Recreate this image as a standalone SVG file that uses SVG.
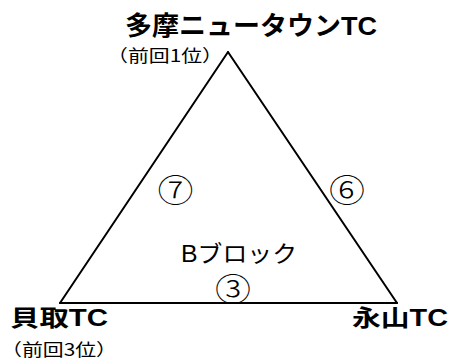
<svg xmlns="http://www.w3.org/2000/svg" width="452" height="361" viewBox="0 0 452 361">
<style>
text{font-family:"Liberation Sans","Noto Sans CJK JP",sans-serif;fill:#000}
.team{font-weight:bold}
.edge{stroke:#000;stroke-width:2;fill:none;stroke-linecap:round}
.num{font-family:"Noto Sans CJK JP","Liberation Sans",sans-serif;font-size:32px;font-weight:300;text-anchor:middle}
.prev{font-family:"Noto Sans CJK JP",sans-serif;font-size:17px}
</style>
<rect width="452" height="361" fill="#fff"/>
<g id="connectors">
<line class="edge" x1="228" y1="52" x2="60" y2="303"/>
<line class="edge" x1="228" y1="52" x2="397" y2="303"/>
<line class="edge" x1="60" y1="303" x2="397" y2="303"/>
<text class="num" x="175.5" y="202" textLength="36" lengthAdjust="spacingAndGlyphs">⑦</text>
<text class="num" x="347" y="202" textLength="36" lengthAdjust="spacingAndGlyphs">⑥</text>
<text class="num" x="233" y="301" textLength="36" lengthAdjust="spacingAndGlyphs">③</text>
</g>
<g id="tama">
<text class="team" x="125" y="35" font-size="26" textLength="252" lengthAdjust="spacingAndGlyphs">多摩ニュータウンTC</text>
<text class="prev" x="107" y="62" textLength="116" lengthAdjust="spacingAndGlyphs">（前回1位）</text>
</g>
<g id="kaidori">
<text class="team" x="10" y="326" font-size="23" textLength="98" lengthAdjust="spacingAndGlyphs">貝取TC</text>
<text class="prev" x="1" y="356" textLength="116" lengthAdjust="spacingAndGlyphs">（前回3位）</text>
</g>
<g id="nagayama">
<text class="team" x="352" y="326" font-size="23" textLength="96" lengthAdjust="spacingAndGlyphs">永山TC</text>
</g>
<g id="block">
<text x="181" y="262" font-size="23" textLength="116" lengthAdjust="spacingAndGlyphs">Bブロック</text>
</g>
</svg>
